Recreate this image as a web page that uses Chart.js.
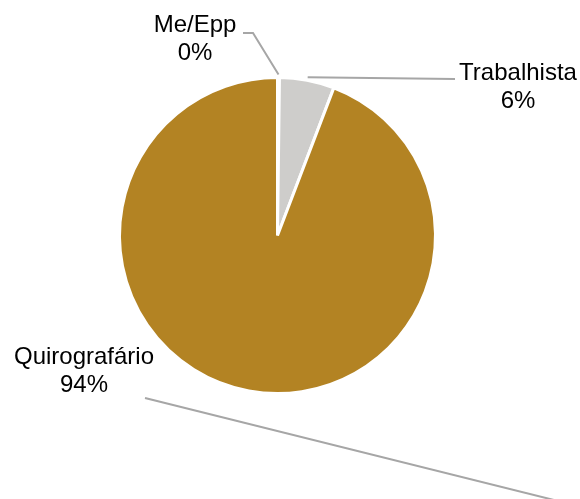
<!DOCTYPE html>
<html>
<head>
<meta charset="utf-8">
<script src="https://cdn.jsdelivr.net/npm/chart.js@4"></script>
<style>
  html, body { margin: 0; padding: 0; background: #fff; }
  #chart { display: block; }
</style>
</head>
<body>
<canvas id="chart" width="580" height="499"></canvas>
<script>
// categories and values (percent of total)
const categories = ['Me/Epp', 'Trabalhista', 'Quirografário'];
const values = [0.2, 5.6, 94.2];
const sliceColors = ['#D6D6D6', '#CECDCB', '#B38323'];

// where each data label sits (center x, y of first line) and its leader line
const labelSpots = [
    { x: 195, y: 25, leader: [[243, 33], [253, 33]], toSlice: true },
    { x: 518, y: 73, leader: [[455, 79]], toSlice: true },
    { x: 84, y: 357, leader: [[145, 398], [562, 502]], toSlice: false }
];

const total = values.reduce((a, b) => a + b, 0);

// draws the category + percent labels and grey leader lines like excel does
const pieLabels = {
    id: 'pieLabels',
    afterDatasetsDraw(chart) {
        const ctx = chart.ctx;
        const meta = chart.getDatasetMeta(0);
        ctx.save();
        for (let i = 0; i < categories.length; i++) {
            const spot = labelSpots[i];
            const arc = meta.data[i];

            // leader line
            const pts = spot.leader.slice();
            if (spot.toSlice) {
                const mid = (arc.startAngle + arc.endAngle) / 2;
                const r = arc.outerRadius + 3;
                pts.push([arc.x + Math.cos(mid) * r, arc.y + Math.sin(mid) * r]);
            }
            ctx.strokeStyle = '#A6A6A6';
            ctx.lineWidth = 2;
            ctx.beginPath();
            ctx.moveTo(pts[0][0], pts[0][1]);
            for (let p = 1; p < pts.length; p++) ctx.lineTo(pts[p][0], pts[p][1]);
            ctx.stroke();

            // label text
            const pct = Math.round(values[i] / total * 100) + '%';
            ctx.fillStyle = '#000';
            ctx.font = '24px "Liberation Sans", Arial, sans-serif';
            ctx.textAlign = 'center';
            ctx.textBaseline = 'middle';
            ctx.fillText(categories[i], spot.x, spot.y);
            ctx.fillText(pct, spot.x, spot.y + 28);
        }
        ctx.restore();
    }
};

new Chart(document.getElementById('chart').getContext('2d'), {
    type: 'pie',
    data: {
        labels: categories,
        datasets: [{
            data: values,
            backgroundColor: sliceColors,
            borderColor: '#FFFFFF',
            borderWidth: 3,
            hoverOffset: 0
        }]
    },
    options: {
        responsive: false,
        animation: false,
        layout: { padding: { left: 118, top: 76, right: 143, bottom: 104 } },
        plugins: {
            legend: { display: false },
            tooltip: { enabled: false }
        }
    },
    plugins: [pieLabels]
});
</script>
</body>
</html>
